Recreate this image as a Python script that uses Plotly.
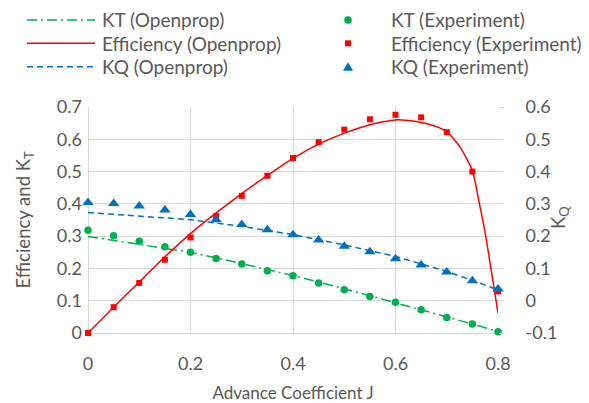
import plotly.graph_objects as go

# Experimental measurements (17 advance coefficients)
j_exp = [0, 0.05, 0.1, 0.15, 0.2, 0.25, 0.3, 0.35, 0.4, 0.45, 0.5, 0.55, 0.6, 0.65, 0.7, 0.75, 0.8]
kt_exp = [0.318, 0.301, 0.284, 0.267, 0.250, 0.231, 0.214, 0.193, 0.177, 0.155, 0.134, 0.113, 0.095, 0.072, 0.048, 0.028, 0.004]
eta_exp = [0.0, 0.080, 0.155, 0.227, 0.296, 0.362, 0.425, 0.487, 0.542, 0.591, 0.630, 0.662, 0.676, 0.668, 0.622, 0.500, 0.129]
kq_exp = [0.304, 0.301, 0.293, 0.281, 0.267, 0.251, 0.236, 0.220, 0.204, 0.188, 0.169, 0.152, 0.130, 0.111, 0.089, 0.062, 0.036]

# OpenProp predictions
j_kt_op = [0, 0.1, 0.2, 0.3, 0.4, 0.5, 0.6, 0.7, 0.8]
kt_op = [0.299, 0.275, 0.250, 0.215, 0.178, 0.137, 0.094, 0.050, 0.005]

j_kq_op = [0, 0.1, 0.2, 0.3, 0.4, 0.5, 0.6, 0.7, 0.8]
kq_op = [0.273, 0.263, 0.251, 0.230, 0.205, 0.173, 0.137, 0.091, 0.034]

j_eta_op = [0, 0.05, 0.1, 0.15, 0.2, 0.25, 0.3, 0.35, 0.4, 0.45, 0.5, 0.55, 0.575, 0.6,
            0.625, 0.65, 0.675, 0.7, 0.725, 0.75, 0.7625, 0.775, 0.7875, 0.8]
eta_op = [0.0, 0.080, 0.158, 0.236, 0.308, 0.372, 0.432, 0.488, 0.541, 0.585, 0.619, 0.645, 0.654, 0.660,
          0.658, 0.652, 0.642, 0.624, 0.578, 0.503, 0.410, 0.310, 0.187, 0.062]

x_ticks = [0, 0.2, 0.4, 0.6, 0.8]
left_ticks = [0, 0.1, 0.2, 0.3, 0.4, 0.5, 0.6, 0.7]
right_ticks = [-0.1, 0, 0.1, 0.2, 0.3, 0.4, 0.5, 0.6]

GREEN = "#00B050"
RED = "#FF0000"
BLUE = "#0070C0"
TEXT = "#595959"
GRID = "#D9D9D9"
FONT = "Lato"

W, H = 589, 403
ML, MR, MT, MB = 88, 91, 107, 70
PW, PH = W - ML - MR, H - MT - MB


def px(x):
    return (x - ML) / PW


def py(y):
    return (H - MB - y) / PH


def fmt(v):
    return "0" if abs(v) < 1e-9 else ("%g" % round(v, 2))


fig = go.Figure()

fig.add_trace(go.Scatter(x=j_kt_op, y=kt_op, mode="lines", name="KT (Openprop)",
                         line=dict(color=GREEN, width=1.5, dash="10px,4px,2px,4px"),
                         cliponaxis=False))
fig.add_trace(go.Scatter(x=j_eta_op, y=eta_op, mode="lines", name="Efficiency (Openprop)",
                         line=dict(color=RED, width=1.5, shape="spline", smoothing=0.6),
                         cliponaxis=False))
fig.add_trace(go.Scatter(x=j_kq_op, y=kq_op, mode="lines", name="KQ (Openprop)", yaxis="y2",
                         line=dict(color=BLUE, width=1.5, dash="6px,4px"),
                         cliponaxis=False))
fig.add_trace(go.Scatter(x=j_exp, y=kt_exp, mode="markers", name="KT (Experiment)",
                         marker=dict(color=GREEN, size=7.5, symbol="circle"),
                         cliponaxis=False))
fig.add_trace(go.Scatter(x=j_exp, y=eta_exp, mode="markers", name="Efficiency (Experiment)",
                         marker=dict(color=RED, size=6, symbol="square"),
                         cliponaxis=False))
fig.add_trace(go.Scatter(x=j_exp, y=kq_exp, mode="markers", name="KQ (Experiment)", yaxis="y2",
                         marker=dict(color=BLUE, size=10, symbol="triangle-up"),
                         cliponaxis=False))

# Legend drawn as two columns above the plot
LEG_SIZE = 19
shapes = []
annotations = []
rows = [20, 43.3, 66.7]
line_items = [("KT (Openprop)", GREEN, "10px,4px,2px,4px"),
              ("Efficiency (Openprop)", RED, "solid"),
              ("KQ (Openprop)", BLUE, "6px,4px")]
for (label, color, dash), y in zip(line_items, rows):
    shapes.append(dict(type="line", xref="paper", yref="paper",
                       x0=px(27), x1=px(95), y0=py(y), y1=py(y),
                       line=dict(color=color, width=1.5, dash=dash)))
    annotations.append(dict(text=label, xref="paper", yref="paper", x=px(100), y=py(y),
                            xanchor="left", yanchor="middle", showarrow=False,
                            font=dict(family=FONT, size=LEG_SIZE, color=TEXT)))

marker_labels = ["KT (Experiment)", "Efficiency (Experiment)", "KQ (Experiment)"]
cx = 348
# circle
shapes.append(dict(type="circle", xref="paper", yref="paper",
                   x0=px(cx - 3.75), x1=px(cx + 3.75), y0=py(rows[0] + 3.75), y1=py(rows[0] - 3.75),
                   fillcolor=GREEN, line=dict(width=0)))
# square
shapes.append(dict(type="rect", xref="paper", yref="paper",
                   x0=px(cx - 3), x1=px(cx + 3), y0=py(rows[1] + 3), y1=py(rows[1] - 3),
                   fillcolor=RED, line=dict(width=0)))
# triangle
tri_path = "M {:.5f} {:.5f} L {:.5f} {:.5f} L {:.5f} {:.5f} Z".format(
    px(cx - 5), py(rows[2] + 4), px(cx + 5), py(rows[2] + 4), px(cx), py(rows[2] - 4.5))
shapes.append(dict(type="path", xref="paper", yref="paper", path=tri_path,
                   fillcolor=BLUE, line=dict(width=0)))
for label, y in zip(marker_labels, rows):
    annotations.append(dict(text=label, xref="paper", yref="paper", x=px(389), y=py(y),
                            xanchor="left", yanchor="middle", showarrow=False,
                            font=dict(family=FONT, size=LEG_SIZE, color=TEXT)))

# Right-hand axis title
annotations.append(dict(text="K<sub>Q</sub>", xref="paper", yref="paper", x=px(559), y=py(218),
                        xanchor="center", yanchor="middle", textangle=-90, showarrow=False,
                        font=dict(family=FONT, size=18.5, color=TEXT)))

TICK_FONT = dict(family=FONT, size=18, color=TEXT)

fig.update_layout(
    width=W, height=H,
    margin=dict(l=ML, r=MR, t=MT, b=MB),
    paper_bgcolor="white", plot_bgcolor="white",
    showlegend=False,
    font=dict(family=FONT, size=17, color=TEXT),
    shapes=shapes,
    annotations=annotations,
    xaxis=dict(range=[0, 0.8], tickvals=x_ticks, ticktext=[fmt(v) for v in x_ticks],
               showgrid=True, gridcolor=GRID, gridwidth=1,
               zeroline=True, zerolinecolor=GRID, zerolinewidth=1,
               showline=False, ticks="", ticklabelstandoff=18, tickfont=TICK_FONT,
               automargin=False,
               title=dict(text="Advance Coefficient J", standoff=30,
                          font=dict(family=FONT, size=17, color=TEXT))),
    yaxis=dict(range=[0, 0.7], tickvals=left_ticks, ticktext=[fmt(v) for v in left_ticks],
               showgrid=True, gridcolor=GRID, gridwidth=1,
               zeroline=True, zerolinecolor=GRID, zerolinewidth=1,
               showline=False, ticks="", ticklabelstandoff=5, tickfont=TICK_FONT,
               automargin=False,
               title=dict(text="Efficiency and K<sub>T</sub>", standoff=21,
                          font=dict(family=FONT, size=18.5, color=TEXT))),
    yaxis2=dict(range=[-0.1, 0.6], tickvals=right_ticks, ticktext=[fmt(v) for v in right_ticks],
                overlaying="y", side="right", showgrid=False, zeroline=False,
                showline=False, ticks="outside", ticklen=5, tickcolor=GRID, tickwidth=1,
                ticklabelstandoff=18, tickfont=TICK_FONT, automargin=False),
)

fig.write_html("out.html")
